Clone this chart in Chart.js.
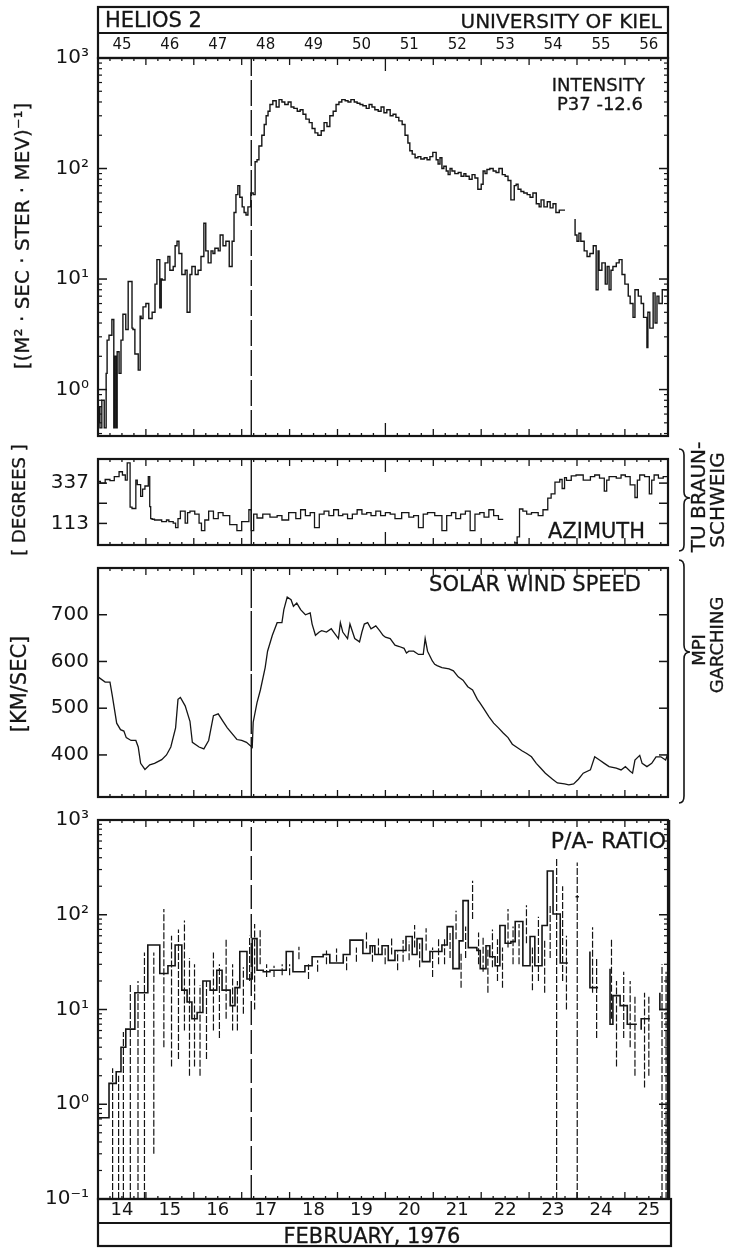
<!DOCTYPE html>
<html>
<head>
<meta charset="utf-8">
<script src="https://cdn.jsdelivr.net/npm/chart.js@4.4.1/dist/chart.umd.min.js"></script>
<style>
  html, body { margin: 0; padding: 0; background: #fff; }
  #fig { position: relative; width: 731px; height: 1248px; overflow: hidden;
         font-family: "DejaVu Sans", sans-serif; color: #151515; }
  #fig canvas { position: absolute; left: 0; }
  .t { position: absolute; white-space: nowrap; line-height: 1; -webkit-text-stroke: 0.3px #151515; }
  .rot { transform: translate(-50%, -50%) rotate(-90deg); }
  svg { position: absolute; left: 0; top: 0; }
</style>
</head>
<body>
<div id="fig">
  <canvas id="cInt" width="731" height="457" style="top:0px"></canvas>
  <canvas id="cAzi" width="731" height="128" style="top:438px"></canvas>
  <canvas id="cWind" width="731" height="271" style="top:547px"></canvas>
  <canvas id="cRatio" width="731" height="449" style="top:799px"></canvas>

  <svg width="731" height="1248" viewBox="0 0 731 1248">
    <path d="M679,449 Q684,449 684,455 L684,492 Q684,498 690,498 Q684,498 684,504 L684,545 Q684,551 679,551"
          fill="none" stroke="#151515" stroke-width="1.6"/>
    <path d="M679,560 Q684,560 684,567 L684,645 Q684,652 690,652 Q684,652 684,659 L684,796 Q684,803 679,803"
          fill="none" stroke="#151515" stroke-width="1.6"/>
  </svg>

  <div class="t" style="left:105px;top:10px;font-size:21px">HELIOS 2</div>
  <div class="t" style="right:69px;top:11px;font-size:20px">UNIVERSITY OF KIEL</div>

  <div class="t rot" style="left:22px;top:236px;font-size:20px">[(M² · SEC · STER · MEV)⁻¹]</div>
  <div class="t rot" style="left:19px;top:500px;font-size:18px">[ DEGREES ]</div>
  <div class="t rot" style="left:19px;top:684px;font-size:21px">[KM/SEC]</div>

  <div class="t" style="right:86px;top:76px;font-size:18px">INTENSITY</div>
  <div class="t" style="right:88px;top:95px;font-size:18px">P37 -12.6</div>
  <div class="t" style="right:86px;top:521px;font-size:21px">AZIMUTH</div>
  <div class="t" style="right:90px;top:574px;font-size:21px">SOLAR WIND SPEED</div>
  <div class="t" style="right:65px;top:830px;font-size:22px">P/A- RATIO</div>

  <div class="t rot" style="left:698px;top:497px;font-size:20px">TU BRAUN-</div>
  <div class="t rot" style="left:717px;top:500px;font-size:20px">SCHWEIG</div>
  <div class="t rot" style="left:699px;top:650px;font-size:18px">MPI</div>
  <div class="t rot" style="left:717px;top:645px;font-size:18px">GARCHING</div>

  <div class="t" style="left:372px;top:1226px;font-size:21px;transform:translateX(-50%)">FEBRUARY, 1976</div>
</div>

<script>
// ---- shared time axis (days of February 1976) ----
const dayMin = 14.0;
const dayMax = 25.9;
const labelDays = [14.5, 15.5, 16.5, 17.5, 18.5, 19.5, 20.5, 21.5, 22.5, 23.5, 24.5, 25.5];
const febDayLabels = ['14', '15', '16', '17', '18', '19', '20', '21', '22', '23', '24', '25'];
const doyLabels = ['45', '46', '47', '48', '49', '50', '51', '52', '53', '54', '55', '56'];
const eventDay = 17.2;   // shock passage, drawn across all panels
const markerDay = 20;    // longer time mark on the upper panels

// ---- proton intensity P3.7-12.6 MeV ----
const intensityMin = 0.38, intensityMax = 1000;
const intensityTicks = [1, 10, 100, 1000];
const intensityTickLabels = ['10⁰', '10¹', '10²', '10³'];
const intensityDays = [14.02,14.04,14.08,14.13,14.17,14.19,14.23,14.29,14.33,14.35,
  14.38,14.40,14.44,14.48,14.52,14.58,14.63,14.71,14.73,14.77,
  14.84,14.88,14.90,14.94,15.00,15.06,15.13,15.19,15.23,15.29,
  15.32,15.34,15.40,15.46,15.50,15.57,15.61,15.65,15.69,15.75,
  15.82,15.86,15.92,15.96,16.03,16.09,16.15,16.21,16.25,16.30,
  16.36,16.40,16.44,16.51,16.55,16.61,16.67,16.74,16.80,16.84,
  16.88,16.92,16.96,17.01,17.05,17.09,17.13,17.19,17.24,17.28,
  17.32,17.36,17.42,17.47,17.51,17.55,17.59,17.65,17.72,17.78,
  17.84,17.90,17.97,18.03,18.09,18.16,18.22,18.28,18.34,18.41,
  18.47,18.53,18.59,18.66,18.72,18.78,18.84,18.91,18.97,19.03,
  19.09,19.16,19.22,19.28,19.35,19.41,19.47,19.53,19.60,19.66,
  19.72,19.78,19.85,19.91,19.97,20.03,20.10,20.16,20.22,20.28,
  20.35,20.41,20.47,20.51,20.56,20.62,20.68,20.74,20.81,20.87,
  20.93,20.99,21.06,21.10,21.14,21.18,21.22,21.27,21.31,21.35,
  21.39,21.45,21.52,21.58,21.64,21.68,21.75,21.81,21.87,21.93,
  22.00,22.04,22.08,22.12,22.18,22.25,22.31,22.37,22.44,22.50,
  22.56,22.62,22.69,22.73,22.77,22.83,22.89,22.96,23.02,23.08,
  23.15,23.21,23.25,23.31,23.38,23.44,23.50,23.56,23.63,23.69,
  23.75,23.77,23.96,24.00,24.04,24.08,24.15,24.21,24.27,24.34,
  24.40,24.44,24.46,24.52,24.59,24.63,24.67,24.71,24.75,24.82,
  24.88,24.94,25.00,25.07,25.11,25.17,25.21,25.28,25.34,25.39,
  25.46,25.48,25.52,25.59,25.63,25.67,25.71,25.78,25.84,25.90];
const intensityValues = [0.5,0.7,0.45,0.8,0.45,1.4,2.8,3.1,4.3,0.45,
  2.0,0.45,2.2,1.4,2.8,4.8,3.5,9.5,3.6,3.5,
  2.1,1.5,4.6,4.4,5.6,6.0,4.4,5.0,9.0,15,
  5.5,10,9.8,14,16,12,13,20,22,17,
  11,12,5.0,11,13,11,12,16,32,18,
  14,18,17,19,18,25,20,22,13,22,
  40,58,70,55,45,40,38,45,60,58,
  115,120,160,200,250,300,330,380,410,360,
  420,400,380,400,360,350,330,340,310,280,
  260,230,210,200,220,260,240,300,330,380,
  400,420,410,400,420,400,390,380,370,350,
  380,360,340,330,360,320,340,300,310,290,
  270,250,200,170,145,135,125,128,122,125,
  120,128,140,120,110,125,100,105,95,88,
  100,95,90,92,85,90,85,80,88,82,
  65,72,95,90,98,100,95,92,100,88,
  85,78,52,70,72,65,62,60,58,55,
  60,48,45,52,45,50,44,48,40,42,
  42,null,35,25,22,26,22,18,16,17,
  20,8,18,12,14,9,13,8,12,13,
  14,15,11,9,7,6,4.5,8,7,6,
  4.5,2.4,5,3.6,7.5,4.0,7,6,8,8];

// ---- magnetic field azimuth (degrees) ----
const azimuthMin = -7, azimuthMax = 471;
const azimuthTicks = [113, 225, 337];
const azimuthTickLabels = ['113', '', '337'];
const azimuthDays = [14.00,14.05,14.15,14.25,14.34,14.44,14.51,14.57,14.61,14.67,
  14.71,14.79,14.82,14.89,14.93,14.98,15.05,15.08,15.10,15.13,
  15.18,15.33,15.43,15.48,15.57,15.62,15.67,15.72,15.82,15.87,
  15.92,16.02,16.11,16.16,16.23,16.31,16.41,16.51,16.61,16.75,
  16.90,17.00,17.15,17.20,17.25,17.32,17.44,17.59,17.74,17.84,
  17.98,18.13,18.23,18.33,18.43,18.52,18.62,18.72,18.82,18.92,
  19.02,19.11,19.21,19.31,19.41,19.51,19.61,19.70,19.80,19.90,
  20.00,20.10,20.20,20.34,20.49,20.59,20.69,20.79,20.88,21.03,
  21.18,21.28,21.38,21.47,21.57,21.67,21.77,21.87,21.97,22.06,
  22.16,22.26,22.36,22.46,22.50,22.70,22.75,22.80,22.87,22.95,
  23.05,23.19,23.29,23.39,23.46,23.54,23.64,23.69,23.74,23.78,
  23.88,23.98,24.13,24.28,24.37,24.47,24.57,24.62,24.67,24.82,
  24.92,25.01,25.11,25.21,25.26,25.31,25.41,25.51,25.56,25.61,
  25.70,25.80,25.90];
const azimuthValues = [382,346,337,357,351,373,400,382,354,450,
  204,196,354,329,263,304,321,373,206,140,
  136,132,123,132,123,115,90,140,181,115,
  173,181,165,115,73,132,181,140,173,156,
  106,73,123,189,73,165,143,165,148,156,
  132,173,140,189,156,173,90,165,181,156,
  189,156,165,140,165,189,165,173,156,181,
  156,173,165,140,173,148,156,90,165,173,
  156,73,156,173,140,165,181,73,165,173,
  148,189,156,135,null,13,4,38,193,181,
  165,173,156,189,254,277,342,357,307,367,
  352,377,382,354,373,382,365,292,354,373,
  365,382,373,327,257,354,382,373,277,354,
  382,365,373];

// ---- solar wind speed (km/s) ----
const windMin = 310, windMax = 800;
const windTicks = [400, 500, 600, 700];
const windTickLabels = ['400', '500', '600', '700'];
const windDays = [14.00,14.15,14.25,14.30,14.39,14.47,14.54,14.59,14.69,14.79,
  14.84,14.89,14.98,15.08,15.18,15.33,15.43,15.52,15.62,15.67,
  15.72,15.82,15.92,15.97,16.11,16.21,16.31,16.41,16.51,16.61,
  16.70,16.90,17.00,17.10,17.22,17.24,17.32,17.39,17.49,17.54,
  17.64,17.74,17.84,17.88,17.95,18.03,18.08,18.15,18.23,18.33,
  18.43,18.47,18.54,18.62,18.67,18.77,18.87,18.92,19.02,19.06,
  19.11,19.21,19.26,19.36,19.46,19.51,19.56,19.63,19.70,19.80,
  19.88,19.95,20.00,20.10,20.20,20.29,20.39,20.44,20.49,20.59,
  20.69,20.79,20.83,20.88,20.98,21.03,21.08,21.18,21.33,21.42,
  21.52,21.62,21.72,21.82,21.92,21.97,22.06,22.16,22.26,22.36,
  22.46,22.56,22.65,22.75,22.85,22.95,23.05,23.15,23.24,23.34,
  23.49,23.59,23.74,23.83,23.93,24.03,24.13,24.28,24.37,24.47,
  24.57,24.67,24.82,24.92,25.01,25.11,25.16,25.21,25.31,25.36,
  25.46,25.56,25.65,25.75,25.85,25.90];
const windValues = [567,556,556,526,468,454,451,437,431,431,
  417,382,369,379,382,390,400,417,458,519,
  523,505,472,427,417,413,431,484,488,472,
  458,433,431,427,416,470,512,539,587,622,
  656,683,683,711,738,732,718,725,711,700,
  704,680,656,663,666,663,670,663,649,683,
  663,649,680,649,642,663,680,683,670,676,
  666,656,652,649,635,632,628,618,622,622,
  615,615,649,622,601,594,591,587,584,580,
  567,560,546,539,519,512,498,482,468,458,
  447,437,423,416,409,403,396,382,372,361,
  348,340,338,336,338,348,361,368,396,389,
  382,375,372,368,375,365,361,389,399,382,
  375,382,396,396,389,403];

// ---- proton / alpha ratio, 3-hour bins with error bars ----
const ratioMin = 0.1, ratioMax = 1000;
const ratioTicks = [0.1, 1, 10, 100, 1000];
const ratioTickLabels = ['10⁻¹', '10⁰', '10¹', '10²', '10³'];
const ratioBinStart = [14.00,14.23,14.38,14.48,14.58,14.77,14.90,15.04,15.29,15.46,
  15.61,15.75,15.86,15.96,16.07,16.19,16.34,16.48,16.59,16.76,
  16.86,16.96,17.11,17.22,17.32,17.45,17.59,17.76,17.93,18.07,
  18.32,18.47,18.70,18.84,19.12,19.26,19.53,19.68,19.78,19.93,
  20.06,20.20,20.31,20.43,20.56,20.66,20.77,20.93,21.04,21.18,
  21.29,21.41,21.54,21.62,21.73,21.91,21.98,22.10,22.18,22.29,
  22.39,22.50,22.62,22.71,22.87,23.02,23.12,23.27,23.38,23.50,
  23.65,23.75,23.81,23.97,24.04,24.27,24.38,24.44,24.69,24.75,
  24.90,25.05,25.17,25.25,25.34,25.48,25.52,25.73,25.82];
const ratioBinEnd = 25.90;
const ratioValues = [1.0,0.72,1.66,2.2,4.0,6.2,15,15,48,24,
  29,48,16,12,8,9.3,20,16,26,16,
  11,17,41,21,56,26,25,26,26,41,
  25,29,36,38,31,38,54,39,47,38,
  47,33,42,42,59,38,56,32,41,41,
  48,75,27,53,141,45,42,27,47,36,
  29,77,50,52,85,29,59,29,77,290,
  102,31,null,155,null,41,17,null,27,7,
  14,11,7,null,6.1,8,null,15,10];
const ratioErrLow = [null,0.1,0.1,0.1,0.1,0.1,0.1,0.3,4,2.5,
  3,6,2,2.5,2,3,6,5,8,6,
  6,9,20,10,30,22,22,23,23,34,
  21,25,30,32,26,32,44,32,38,30,
  38,26,32,33,45,28,42,22,30,30,
  35,55,17,35,90,30,25,15,28,20,
  17,45,30,30,50,16,20,15,35,0.1,
  20,10,null,0.1,null,15,5,null,8,2.5,
  5,4,2,null,1.5,2,null,0.1,0.1];
const ratioErrHigh = [null,2.4,2.0,5.8,19,20,40,40,115,60,
  70,87,35,30,18,20,40,30,55,30,
  20,28,60,80,70,30,29,30,30,46,
  30,33,42,44,36,45,66,47,56,46,
  57,41,54,52,78,50,72,45,56,55,
  65,110,40,75,228,65,60,45,70,55,
  45,115,75,80,126,45,95,55,130,400,
  200,60,null,355,null,74,35,null,55,20,
  25,20,14,null,15,14,null,30,25];

// ---- styling ----
const FONT = '"DejaVu Sans", sans-serif';
const INK = '#151515';
Chart.defaults.font.family = FONT;
Chart.defaults.color = INK;

// ---- helpers ----
function toPoints(days, values) {
  return days.map((d, i) => ({ x: d, y: values[i] }));
}
// step outline of binned values; a null value leaves a gap
function histogramPoints(starts, values, end) {
  const out = [];
  for (let i = 0; i < starts.length; i++) {
    if (values[i] === null) {
      if (i > 0 && values[i - 1] !== null) out.push({ x: starts[i], y: values[i - 1] });
      out.push({ x: starts[i], y: null });
    } else {
      out.push({ x: starts[i], y: values[i] });
    }
  }
  out.push({ x: end, y: values[values.length - 1] });
  return out;
}
// vertical error bars at bin centres
function errorBarPoints(starts, values, lows, highs, end) {
  const out = [];
  for (let i = 0; i < starts.length; i++) {
    if (values[i] === null || lows[i] === null) continue;
    const next = i + 1 < starts.length ? starts[i + 1] : end;
    const mid = (starts[i] + next) / 2;
    out.push({ x: mid, y: lows[i] }, { x: mid, y: highs[i] }, { x: mid, y: null });
  }
  return out;
}
function logMinorTicks(lo, hi) {
  const out = [];
  for (let e = Math.floor(Math.log10(lo)); e <= Math.ceil(Math.log10(hi)); e++) {
    for (let m = 2; m <= 9; m++) {
      const v = m * Math.pow(10, e);
      if (v > lo && v < hi) out.push(v);
    }
  }
  return out;
}
function eventLine(lo, hi, dash) {
  return { data: [{ x: eventDay, y: lo }, { x: eventDay, y: hi }], borderColor: INK,
           borderWidth: 1.4, borderDash: dash, pointRadius: 0 };
}
function yScale(type, min, max, ticks, labels) {
  return {
    type, min, max,
    afterFit: s => { s.width = 98; },
    afterBuildTicks: s => { s.ticks = ticks.map(v => ({ value: v })); },
    grid: { display: false, drawTicks: false },
    border: { display: false },
    ticks: { autoSkip: false, padding: 9, color: INK, font: { family: FONT, size: 20 },
             callback: (v, i) => labels[i] }
  };
}
function hiddenX() {
  return { type: 'linear', min: dayMin, max: dayMax, display: false };
}

// frame, inward ticks, header and footer boxes
const framePlugin = {
  id: 'frame',
  afterDatasetsDraw(chart, args, o) {
    const { ctx, chartArea: a } = chart;
    const xs = chart.scales.x, ys = chart.scales.y;
    ctx.save();
    ctx.strokeStyle = INK;
    const seg = (x1, y1, x2, y2, w) => {
      ctx.lineWidth = w; ctx.beginPath(); ctx.moveTo(x1, y1); ctx.lineTo(x2, y2); ctx.stroke();
    };
    for (let q = Math.ceil(dayMin * 4); q <= Math.floor(dayMax * 4); q++) {
      const d = q / 4;
      const px = xs.getPixelForValue(d);
      let L = (q % 4 === 0) ? 7 : 3;
      if (d === markerDay && o.marker) L = 13;
      seg(px, a.top, px, a.top + L, 1.3);
      seg(px, a.bottom, px, a.bottom - L, 1.3);
    }
    (o.major || []).forEach(v => {
      const py = ys.getPixelForValue(v);
      seg(a.left, py, a.left + 9, py, 1.5);
      seg(a.right, py, a.right - 9, py, 1.5);
    });
    (o.minor || []).forEach(v => {
      const py = ys.getPixelForValue(v);
      seg(a.left, py, a.left + 4, py, 1.2);
      seg(a.right, py, a.right - 4, py, 1.2);
    });
    ctx.lineWidth = 2.2;
    ctx.strokeRect(a.left, a.top, a.width, a.height);
    if (o.header) {
      const s = chart.scales.xTop;
      ctx.lineWidth = 2.2;
      ctx.strokeRect(s.left, s.top, s.width, s.height);
      seg(s.left, s.top + 26, s.right, s.top + 26, 2.2);
    }
    if (o.footer) {
      ctx.lineWidth = 2.2;
      ctx.strokeRect(xs.left, xs.top, xs.width + 3, xs.height - 1);
      seg(xs.left, xs.top + 24, xs.right + 3, xs.top + 24, 2.2);
      seg(a.right + 1, a.top, a.right + 1, a.bottom, 2.5);
    }
    ctx.restore();
  }
};
Chart.register(framePlugin);

function baseOptions(padTop, padBottom, scales, frame) {
  return {
    responsive: false, animation: false, devicePixelRatio: 1, events: [],
    layout: { padding: { left: 0, right: 63, top: padTop, bottom: padBottom } },
    plugins: { legend: { display: false }, tooltip: { enabled: false }, frame },
    elements: { point: { radius: 0 }, line: { tension: 0 } },
    scales
  };
}

// ---- panel 1: intensity ----
new Chart(document.getElementById('cInt'), {
  type: 'line',
  data: { datasets: [
    eventLine(intensityMin, intensityMax, [26, 4]),
    { data: toPoints(intensityDays, intensityValues), stepped: 'after',
      borderColor: INK, borderWidth: 1.4, pointRadius: 0 }
  ] },
  options: baseOptions(7, 16, {
    x: hiddenX(),
    xTop: {
      type: 'linear', position: 'top', min: dayMin, max: dayMax,
      afterFit: s => { s.height = 51; },
      afterBuildTicks: s => { s.ticks = labelDays.map(v => ({ value: v })); },
      grid: { display: false, drawTicks: false }, border: { display: false },
      ticks: { autoSkip: false, maxRotation: 0, minRotation: 0, padding: 4, color: INK,
               font: { family: FONT, size: 15 }, callback: (v, i) => doyLabels[i] }
    },
    y: yScale('logarithmic', intensityMin, intensityMax, intensityTicks, intensityTickLabels)
  }, { major: intensityTicks, minor: logMinorTicks(intensityMin, intensityMax), marker: true, header: true })
});

// ---- panel 2: azimuth ----
new Chart(document.getElementById('cAzi'), {
  type: 'line',
  data: { datasets: [
    eventLine(azimuthMin, azimuthMax, []),
    { data: toPoints(azimuthDays, azimuthValues), stepped: 'after',
      borderColor: INK, borderWidth: 1.3, pointRadius: 0 }
  ] },
  options: baseOptions(16, 16, {
    x: hiddenX(),
    y: yScale('linear', azimuthMin, azimuthMax, azimuthTicks, azimuthTickLabels)
  }, { major: azimuthTicks, marker: true })
});

// ---- panel 3: solar wind speed ----
new Chart(document.getElementById('cWind'), {
  type: 'line',
  data: { datasets: [
    eventLine(windMin, windMax, [60, 3]),
    { data: toPoints(windDays, windValues),
      borderColor: INK, borderWidth: 1.3, pointRadius: 0 }
  ] },
  options: baseOptions(16, 16, {
    x: hiddenX(),
    y: yScale('linear', windMin, windMax, windTicks, windTickLabels)
  }, { major: windTicks })
});

// ---- panel 4: P/A ratio ----
new Chart(document.getElementById('cRatio'), {
  type: 'line',
  data: { datasets: [
    eventLine(ratioMin, ratioMax, [24, 5]),
    { data: errorBarPoints(ratioBinStart, ratioValues, ratioErrLow, ratioErrHigh, ratioBinEnd),
      borderColor: INK, borderWidth: 1.2, borderDash: [7, 2], pointRadius: 0 },
    { data: histogramPoints(ratioBinStart, ratioValues, ratioBinEnd), stepped: 'after',
      borderColor: INK, borderWidth: 1.6, pointRadius: 0 }
  ] },
  options: baseOptions(16, 1, {
    x: {
      type: 'linear', position: 'bottom', min: dayMin, max: dayMax,
      afterFit: s => { s.height = 48; },
      afterBuildTicks: s => { s.ticks = labelDays.map(v => ({ value: v })); },
      grid: { display: false, drawTicks: false }, border: { display: false },
      ticks: { autoSkip: false, maxRotation: 0, minRotation: 0, padding: 1, color: INK,
               font: { family: FONT, size: 18 }, callback: (v, i) => febDayLabels[i] }
    },
    y: yScale('logarithmic', ratioMin, ratioMax, ratioTicks, ratioTickLabels)
  }, { major: ratioTicks, minor: logMinorTicks(ratioMin, ratioMax), footer: true })
});
</script>
</body>
</html>
